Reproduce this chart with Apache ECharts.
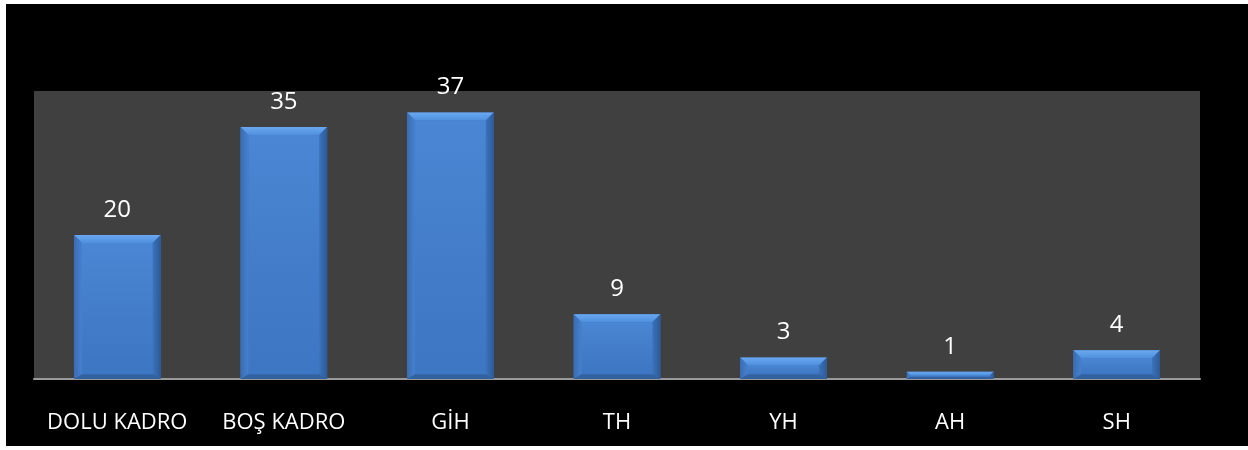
<!DOCTYPE html>
<html>
<head>
<meta charset="utf-8">
<script src="https://cdn.jsdelivr.net/npm/echarts@6/dist/echarts.min.js"></script>
<style>
html,body{margin:0;padding:0;background:#ffffff;width:1248px;height:450px;overflow:hidden;}
#chart{position:absolute;left:6px;top:4px;width:1242px;height:442px;background:#000;}
</style>
</head>
<body>
<div id="chart"></div>
<script>
var categories = ['DOLU KADRO', 'BOŞ KADRO', 'GİH', 'TH', 'YH', 'AH', 'SH'];
var values = [20, 35, 37, 9, 3, 1, 4];
var yMax = 40;

var chart = echarts.init(document.getElementById('chart'));

function renderBar(params, api) {
  var idx = api.value(0);
  var val = api.value(1);
  var top = api.coord([idx, val]);
  var base = api.coord([idx, 0]);
  var bw = api.size([1, 0])[0] * 0.52;
  var x0 = top[0] - bw / 2, x1 = top[0] + bw / 2;
  var y0 = top[1], y1 = base[1];
  var h = y1 - y0;
  var b = Math.min(8, h / 2, bw / 2);
  var ix0 = x0 + b, ix1 = x1 - b, iy0 = y0 + b, iy1 = y1 - b * 0.6;
  if (iy1 < iy0) { iy1 = iy0; }
  return {
    type: 'group',
    children: [
      { type: 'rect', shape: {x: x0, y: y0, width: bw, height: h},
        style: {fill: '#3c74bf'} },
      { type: 'polygon', shape: {points: [[x0, y0], [x1, y0], [ix1, iy0], [ix0, iy0]]},
        style: {fill: new echarts.graphic.LinearGradient(0, 0, 0, 1, [
          {offset: 0, color: '#6aa8f0'}, {offset: 1, color: '#4f8fdc'}])} },
      { type: 'polygon', shape: {points: [[x0, y0], [ix0, iy0], [ix0, iy1], [x0, y1]]},
        style: {fill: new echarts.graphic.LinearGradient(0, 0, 1, 0, [
          {offset: 0, color: '#3a6db3'}, {offset: 1, color: '#4681cf'}])} },
      { type: 'polygon', shape: {points: [[x1, y0], [ix1, iy0], [ix1, iy1], [x1, y1]]},
        style: {fill: new echarts.graphic.LinearGradient(0, 0, 1, 0, [
          {offset: 0, color: '#3b73bb'}, {offset: 1, color: '#2c5a98'}])} },
      { type: 'polygon', shape: {points: [[x0, y1], [ix0, iy1], [ix1, iy1], [x1, y1]]},
        style: {fill: '#31619f'} },
      { type: 'rect', shape: {x: ix0, y: iy0, width: Math.max(0, ix1 - ix0), height: Math.max(0, iy1 - iy0)},
        style: {fill: new echarts.graphic.LinearGradient(0, 0, 0, 1, [
          {offset: 0, color: '#4a86d3'}, {offset: 1, color: '#3d76c2'}])} },
      { type: 'text', x: top[0], y: y0 - 13,
        style: {text: String(val), fill: '#ffffff', font: '24px "Open Sans"',
          textAlign: 'center', textVerticalAlign: 'bottom'} }
    ]
  };
}

var option = {
  backgroundColor: '#000000',
  animation: false,
  grid: {left: 28, right: 48, top: 87, bottom: 67, show: true,
    backgroundColor: '#404040', borderWidth: 0},
  xAxis: {
    type: 'category',
    data: categories,
    axisLine: {show: true, lineStyle: {color: '#9a9a9a', width: 2}},
    axisTick: {show: false},
    axisLabel: {color: '#ffffff', fontFamily: 'Open Sans', fontSize: 22, margin: 33, interval: 0}
  },
  yAxis: {
    type: 'value', min: 0, max: yMax,
    show: false,
    splitLine: {show: false}
  },
  series: [{
    type: 'custom',
    renderItem: renderBar,
    data: values.map(function (v, i) { return [i, v]; }),
    encode: {x: 0, y: 1}
  }]
};
chart.setOption(option);
</script>
</body>
</html>
